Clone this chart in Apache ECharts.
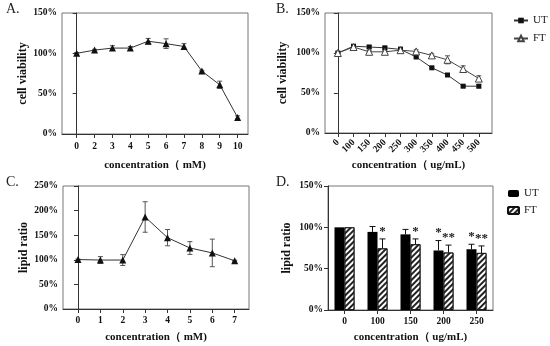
<!DOCTYPE html>
<html><head><meta charset="utf-8">
<script src="https://cdn.jsdelivr.net/npm/echarts@6/dist/echarts.min.js"></script>
<style>html,body{margin:0;padding:0;background:#fff}#c{width:550px;height:346px}</style>
</head><body><div id="c"></div>
<script>
// Panel A
const A_cats = ['0','2','3','4','5','6','7','8','9','10'];
const A_vals = [100,104,106.5,106.5,115,112,108.5,78,61,20.5];
const A_err  = [1,1,3,2,3.5,6,3.5,1,4.5,2];
// Panel B
const B_cats = ['0','100','150','200','250','300','350','400','450','500'];
const B_ut   = [100,108.5,107.5,106.5,104.5,95,81.5,72.5,58.5,58.5];
const B_ut_err = [1,1.5,2,1.5,1.5,1,1,1.5,1,2];
const B_ft   = [100,107.5,101.5,101.5,103.5,102,97,91.5,80,68];
const B_ft_err = [1,1,1.5,1.5,4,2,2,5,4,3.5];
// Panel C
const C_cats = ['0','1','2','3','4','5','6','7'];
const C_vals = [100.5,99.5,99.5,187,145,124,114,98];
const C_err  = [1,7,11,31,16.5,13,28,1];
// Panel D
const D_cats = ['0','100','150','200','250'];
const D_ut   = [100,94.5,91.5,72,73.5];
const D_ut_err = [0,6.5,6,12,6];
const D_ft   = [100,74.5,79.5,69.5,69];
const D_ft_err = [0,11.5,6.5,9,8.5];
const D_ut_sig = ['','','','*','*'];
const D_ft_sig = ['','*','*','**','**'];

const SERIF = '"Liberation Serif","Times New Roman",serif';
const chart = echarts.init(document.getElementById('c'), null, {renderer:'canvas'});

const lab = {fontFamily:SERIF, fontWeight:'bold', fontSize:9.5, color:'#111'};
const nameSt = {fontFamily:SERIF, fontWeight:'bold', fontSize:11, color:'#111'};

function errSeries(xi, yi, vals, errs, half, color, offset, upOnly){
  return {
    type:'custom', xAxisIndex:xi, yAxisIndex:yi, z:3, silent:true,
    data: vals.map((v,i)=>[i, v, errs[i]]),
    renderItem: function(params, api){
      const x = api.value(0), y = api.value(1), e = api.value(2);
      if (!e) return null;
      const t = api.coord([x, y+e]);
      const b = api.coord([x, upOnly ? y : y-e]);
      const dx = offset || 0;
      const st = {stroke:color, lineWidth:1};
      const ch = [
        {type:'line', shape:{x1:t[0]+dx, y1:t[1], x2:b[0]+dx, y2:b[1]}, style:st},
        {type:'line', shape:{x1:t[0]+dx-half, y1:t[1], x2:t[0]+dx+half, y2:t[1]}, style:st}
      ];
      if (!upOnly) ch.push({type:'line', shape:{x1:b[0]+dx-half, y1:b[1], x2:b[0]+dx+half, y2:b[1]}, style:st});
      return {type:'group', children:ch};
    }
  };
}
function sigSeries(xi, yi, vals, errs, sig, offset){
  return {
    type:'custom', xAxisIndex:xi, yAxisIndex:yi, z:4, silent:true,
    data: vals.map((v,i)=>[i, v, errs[i], sig[i]]),
    renderItem: function(params, api){
      const i = params.dataIndex;
      if (!sig[i]) return null;
      const p = api.coord([api.value(0), api.value(1)+api.value(2)]);
      return {type:'text', x:p[0]+offset, y:p[1]-1,
        style:{text:sig[i], fill:'#222', font:'bold 13px '+SERIF, textAlign:'center', textVerticalAlign:'bottom'}};
    }
  };
}
function xVal(gi, min, max, cats, rotate, nameGap, margin){
  const idx = cats.map((c,i)=>i);
  return {type:'value', gridIndex:gi, min:min, max:max,
    name:'', nameLocation:'middle', nameGap:nameGap, nameTextStyle:nameSt,
    axisLine:{show:true, onZero:false, lineStyle:{color:'#333'}},
    axisTick:{show:true, length:4, customValues:idx, lineStyle:{color:'#333'}},
    axisLabel:Object.assign({customValues:idx, rotate:rotate||0, margin:margin, formatter:v=>cats[Math.round(v)]}, lab),
    splitLine:{show:false}};
}
function yAx(gi, max, name, gap){
  return {type:'value', gridIndex:gi, min:0, max:max, interval:50,
    name:name, nameLocation:'middle', nameGap:gap, nameTextStyle:Object.assign({}, nameSt, {fontSize:12}),
    axisLine:{show:true, lineStyle:{color:'#333'}},
    axisTick:{show:true, length:4, lineStyle:{color:'#333'}},
    axisLabel:Object.assign({formatter:'{value}%', margin:5}, lab),
    splitLine:{show:false}};
}
const gridBase = {show:true, borderColor:'#777', borderWidth:1, backgroundColor:'transparent'};

const xA = xVal(0, -0.82, 9.58, A_cats, 0, 26, 8); xA.name = 'concentration（ mM)';
const xB = xVal(1, -0.82, 9.84, B_cats, 45, 27, 8); xB.name = 'concentration（ ug/mL)';
const xC = xVal(2, -0.67, 7.64, C_cats, 0, 23, 7); xC.name = 'concentration（ mM)';
const xD = {type:'category', gridIndex:3, data:D_cats,
  name:'concentration（ ug/mL)', nameLocation:'middle', nameGap:22, nameTextStyle:nameSt,
  axisLine:{show:true, lineStyle:{color:'#333'}},
  axisTick:{show:true, length:4, alignWithLabel:true, lineStyle:{color:'#333'}},
  axisLabel:Object.assign({margin:7}, lab), splitLine:{show:false}};

const hatch = {symbol:'rect', symbolSize:1, color:'#222', dashArrayX:[1,0], dashArrayY:[1.2,1.8], rotation:-Math.PI/4};

const lineStyle = {color:'#333', width:1};

chart.setOption({
  animation:false,
  grid:[
    Object.assign({left:62, top:13, width:186, height:121}, gridBase),
    Object.assign({left:325, top:13, width:167, height:120}, gridBase),
    Object.assign({left:63, top:186, width:186, height:123}, gridBase),
    Object.assign({left:328, top:186, width:165, height:124}, gridBase)
  ],
  xAxis:[xA, xB, xC, xD],
  yAxis:[yAx(0,150,'cell viability',31), yAx(1,150,'cell viability',36), yAx(2,250,'lipid ratio',32), yAx(3,150,'lipid ratio',35)],
  legend:[
    {data:['UT','FT'], orient:'vertical', left:513, top:15, padding:0, itemWidth:14, itemHeight:7, itemGap:7,
     textStyle:{fontFamily:SERIF, fontSize:11, color:'#222'}},
    {data:['UT ','FT '], orient:'vertical', left:507, top:188, padding:0, itemWidth:11, itemHeight:7, itemGap:6,
     formatter:n=>n.trim(), textStyle:{fontFamily:SERIF, fontSize:11, color:'#222'}}
  ],
  graphic:[
    {type:'text', left:6, top:2, style:{text:'A.', font:'14px '+SERIF, fill:'#222'}},
    {type:'text', left:276, top:2, style:{text:'B.', font:'14px '+SERIF, fill:'#222'}},
    {type:'text', left:6, top:175, style:{text:'C.', font:'14px '+SERIF, fill:'#222'}},
    {type:'text', left:276, top:175, style:{text:'D.', font:'14px '+SERIF, fill:'#222'}}
  ],
  series:[
    errSeries(0,0,A_vals,A_err,2.5,'#555'),
    {type:'line', xAxisIndex:0, yAxisIndex:0, data:A_vals.map((v,i)=>[i,v]), symbol:'triangle', symbolSize:7,
     itemStyle:{color:'#111'}, lineStyle:lineStyle, z:4},
    errSeries(1,1,B_ut,B_ut_err,2.5,'#555'),
    errSeries(1,1,B_ft,B_ft_err,2.5,'#555'),
    {name:'UT', type:'line', xAxisIndex:1, yAxisIndex:1, data:B_ut.map((v,i)=>[i,v]), symbol:'rect', symbolSize:5,
     itemStyle:{color:'#111'}, lineStyle:lineStyle, z:4},
    {name:'FT', type:'line', xAxisIndex:1, yAxisIndex:1, data:B_ft.map((v,i)=>[i,v]), symbol:'triangle', symbolSize:7,
     itemStyle:{color:'#fff', borderColor:'#444', borderWidth:1}, lineStyle:{color:'#444', width:1}, z:4},
    errSeries(2,2,C_vals,C_err,2.5,'#555'),
    {type:'line', xAxisIndex:2, yAxisIndex:2, data:C_vals.map((v,i)=>[i,v]), symbol:'triangle', symbolSize:7,
     itemStyle:{color:'#111'}, lineStyle:lineStyle, z:4},
    {name:'UT ', type:'bar', xAxisIndex:3, yAxisIndex:3, data:D_ut, barWidth:10, barGap:'0%',
     itemStyle:{color:'#000'}},
    {name:'FT ', type:'bar', xAxisIndex:3, yAxisIndex:3, data:D_ft, barWidth:10, barGap:'0%',
     itemStyle:{color:'#fff', borderColor:'#111', borderWidth:0.8, decal:hatch}},
    errSeries(3,3,D_ut,D_ut_err,3,'#111',-5,true),
    errSeries(3,3,D_ft,D_ft_err,3,'#111',5,true),
    sigSeries(3,3,D_ut,D_ut_err,D_ut_sig,-5),
    sigSeries(3,3,D_ft,D_ft_err,D_ft_sig,5)
  ]
});
</script></body></html>
